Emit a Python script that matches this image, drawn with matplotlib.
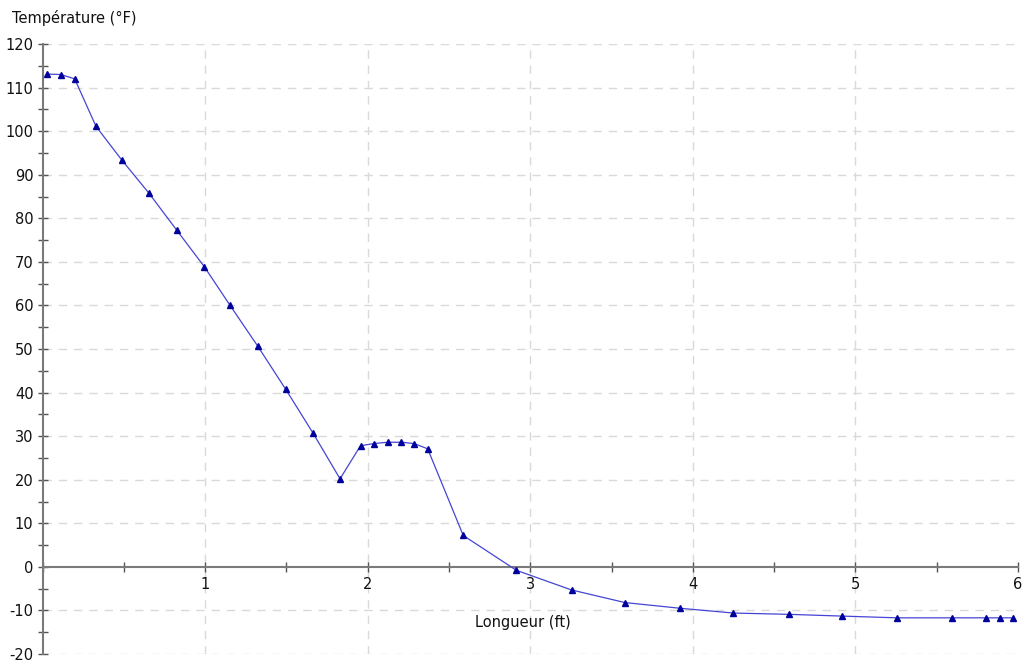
import matplotlib
matplotlib.use("Agg")
import matplotlib.pyplot as plt
from matplotlib.ticker import MultipleLocator, FixedLocator

# Longueur (ft) / Température (°F)
longueur = [0.026, 0.112, 0.198, 0.329, 0.487, 0.656, 0.825, 0.995, 1.152, 1.323,
            1.495, 1.664, 1.830, 1.956, 2.039, 2.124, 2.208, 2.285, 2.369, 2.588,
            2.915, 3.254, 3.583, 3.921, 4.250, 4.592, 4.918, 5.256, 5.595, 5.803,
            5.888, 5.971]
temperature = [113.1, 113.0, 112.0, 101.1, 93.4, 85.7, 77.3, 68.9, 60.1, 50.7,
               40.8, 30.7, 20.2, 27.8, 28.3, 28.6, 28.6, 28.3, 27.1, 7.2,
               -0.8, -5.3, -8.2, -9.5, -10.6, -10.9, -11.3, -11.7, -11.7, -11.7,
               -11.7, -11.7]
x_labels = [1, 2, 3, 4, 5, 6]
y_labels = list(range(-20, 121, 10))

plt.rcParams['font.family'] = ['DejaVu Sans']

fig = plt.figure(figsize=(10.24, 6.72), dpi=100)
ax = fig.add_axes([42.5 / 1024, 1 - 654 / 672, (1018 - 42.5) / 1024, (654 - 44) / 672])

ax.plot(longueur, temperature, color='#4545d5', lw=0.9, zorder=3)
ax.plot(longueur, temperature, ls='none', marker='^', ms=5, color='#00009a', zorder=4)

ax.set_xlim(0, 6)
ax.set_ylim(-20, 120)

# axes: y on the left, x through zero
axis_col = '#7a7a7a'
for s in ['top', 'right']:
    ax.spines[s].set_visible(False)
ax.spines['bottom'].set_position(('data', 0))
ax.spines['left'].set_color(axis_col)
ax.spines['bottom'].set_color(axis_col)
ax.spines['left'].set_linewidth(1.5)
ax.spines['bottom'].set_linewidth(1.5)

ax.xaxis.set_major_locator(FixedLocator(x_labels))
ax.xaxis.set_minor_locator(MultipleLocator(0.5))
ax.yaxis.set_major_locator(FixedLocator(y_labels))
ax.yaxis.set_minor_locator(MultipleLocator(5))
ax.set_yticklabels([str(v) for v in y_labels])

ax.tick_params(axis='both', which='both', direction='inout', color='#555555',
               width=1, length=7, labelsize=10.5, labelcolor='#111111')
ax.tick_params(axis='x', pad=4)
ax.tick_params(axis='y', pad=3)

# dashed grid (skip the lines that coincide with axes)
grid_kw = dict(color='#d9d9d9', lw=1, ls=(0, (6, 5)), zorder=1)
for xv in x_labels[:-1]:
    ax.axvline(xv, **grid_kw)
for yv in y_labels:
    if yv != 0:
        ax.axhline(yv, **grid_kw)

fig.text(12 / 1024, 1 - 18 / 672, 'Température (°F)', ha='left', va='center',
         fontsize=10.5, color='#111111')
fig.text(523 / 1024, 1 - 622 / 672, 'Longueur (ft)', ha='center', va='center',
         fontsize=10.5, color='#111111')

fig.savefig('out.png', dpi=100)
